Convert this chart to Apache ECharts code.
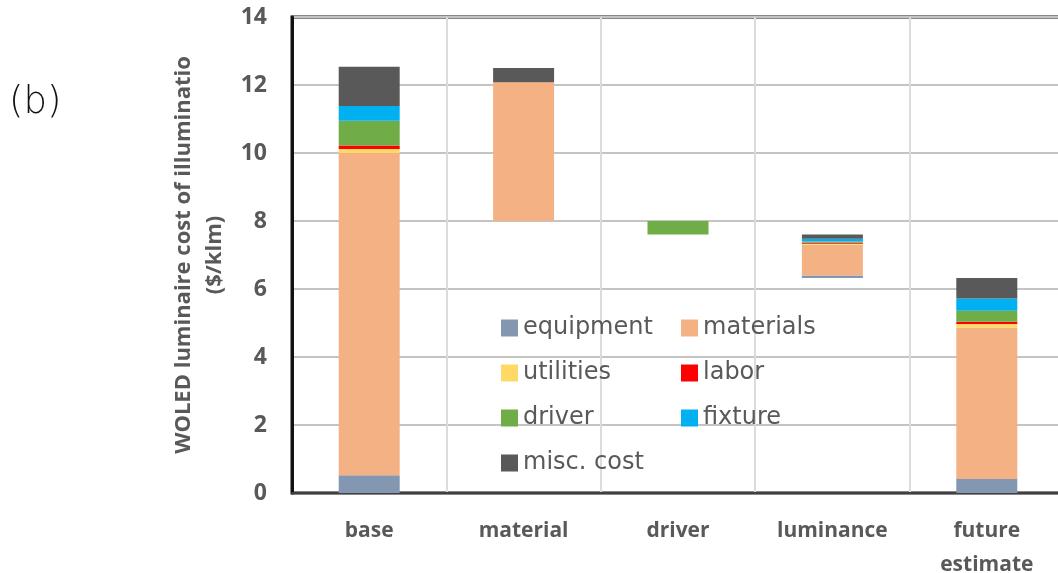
<!DOCTYPE html>
<html>
<head>
<meta charset="utf-8">
<script src="https://cdn.jsdelivr.net/npm/echarts@6/dist/echarts.min.js"></script>
<style>
  html, body { margin: 0; padding: 0; background: #fff; }
  #main { width: 1058px; height: 573px; }
</style>
</head>
<body>
<div id="main"></div>
<script>
// categories along the x axis
var categories = ["base", "material", "driver", "luminance", "future\nestimate"];
// invisible part under each floating bar (waterfall)
var offset = [0, 8.0, 7.6, 6.32, 0];
// cost components, $/klm
var equipment = [0.52, 0, 0, 0.08, 0.41];
var materials = [9.48, 4.08, 0, 0.90, 4.46];
var utilities = [0.12, 0, 0, 0.03, 0.10];
var labor = [0.10, 0, 0, 0.03, 0.07];
var driver = [0.73, 0, 0.40, 0.04, 0.32];
var fixture = [0.43, 0, 0, 0.08, 0.36];
var misc = [1.16, 0.42, 0, 0.12, 0.60];
var yTicks = [0, 2, 4, 6, 8, 10, 12, 14];

var chart = echarts.init(document.getElementById("main"));

function part(name, data, color) {
  return {
    name: name,
    type: "bar",
    stack: "total",
    barWidth: 61,
    data: data,
    itemStyle: { color: color },
    emphasis: { disabled: true }
  };
}

var legendText = { fontFamily: "DejaVu Sans", fontSize: 24, color: "#595959" };

var option = {
  animation: false,
  grid: {
    left: 292, top: 17, width: 772, height: 476,
    outerBoundsMode: "none",
    containLabel: false,
    show: true, borderColor: "#111", borderWidth: 3
  },
  legend: [
    {
      data: ["equipment", "utilities", "driver", "misc. cost"],
      orient: "vertical", left: 496, top: 311, itemGap: 21,
      icon: "rect", itemWidth: 17, itemHeight: 17,
      textStyle: legendText
    },
    {
      data: ["materials", "labor", "fixture"],
      orient: "vertical", left: 676, top: 311, itemGap: 21,
      icon: "rect", itemWidth: 17, itemHeight: 17,
      textStyle: legendText
    }
  ],
  graphic: [
    {
      type: "text", left: 9, top: 85,
      style: { text: "(b)", fontFamily: "DejaVu Sans", fontWeight: 200, fontSize: 37, fill: "#111" }
    }
  ],
  xAxis: {
    type: "category",
    data: categories,
    axisLine: { show: true, lineStyle: { color: "#404040", width: 2 } },
    axisTick: { show: false },
    splitLine: { show: true, lineStyle: { color: "#dcdcdc", width: 2 } },
    axisLabel: {
      margin: 21, fontFamily: "Open Sans", fontWeight: "bold", fontSize: 21,
      color: "#595959", lineHeight: 34
    }
  },
  yAxis: {
    type: "value",
    min: 0, max: 14, interval: 2,
    name: "WOLED luminaire cost of illuminatio\n($/klm)",
    nameLocation: "middle",
    nameGap: 40,
    nameTextStyle: {
      fontFamily: "Open Sans", fontWeight: "bold", fontSize: 22,
      color: "#595959", lineHeight: 31
    },
    axisLine: { show: true, lineStyle: { color: "#111", width: 3 } },
    axisTick: { show: false },
    splitLine: { lineStyle: { color: "#c4c4c4", width: 2 } },
    axisLabel: {
      margin: 25, fontFamily: "Open Sans", fontWeight: "bold", fontSize: 23,
      color: "#595959",
      formatter: function (v) { return yTicks.indexOf(v) >= 0 ? String(v) : ""; }
    }
  },
  series: [
    {
      name: "offset", type: "bar", stack: "total", barWidth: 61,
      data: offset, itemStyle: { color: "transparent" },
      emphasis: { disabled: true }, silent: true
    },
    part("equipment", equipment, "#8497b0"),
    part("materials", materials, "#f4b183"),
    part("utilities", utilities, "#ffd966"),
    part("labor", labor, "#ff0000"),
    part("driver", driver, "#70ad47"),
    part("fixture", fixture, "#00b0f0"),
    part("misc. cost", misc, "#595959")
  ]
};

chart.setOption(option);
window.onresize = function () {
  chart.resize();
};
</script>
</body>
</html>
